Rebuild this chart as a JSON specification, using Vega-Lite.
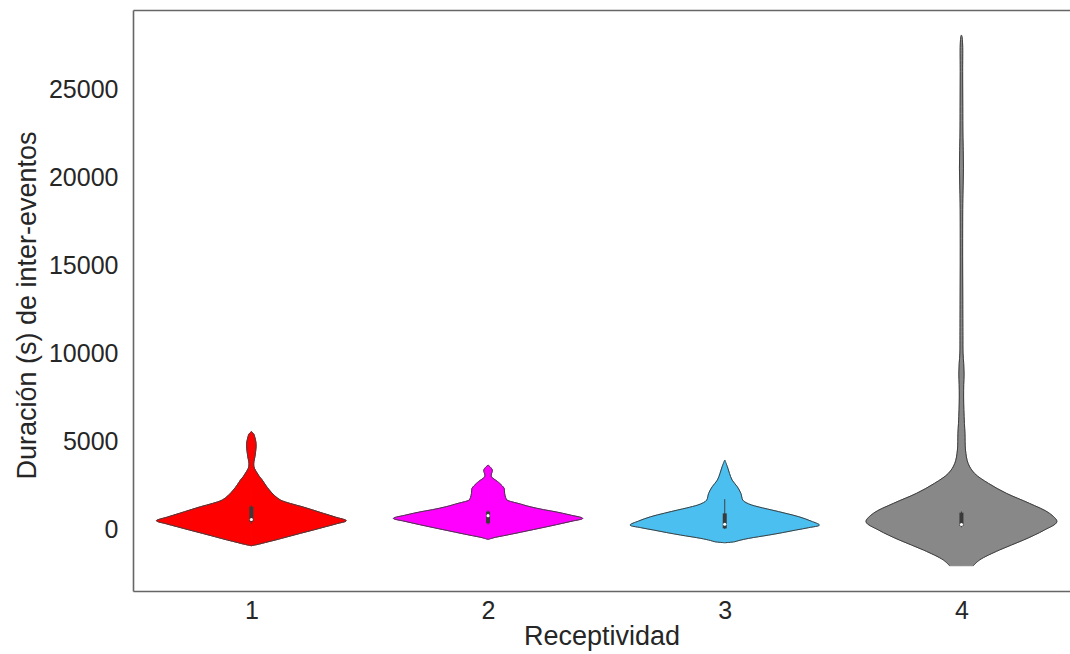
{
  "$schema": "https://vega.github.io/schema/vega-lite/v6.json",
  "width": 937,
  "height": 581,
  "autosize": {"type": "none"},
  "padding": {"left": 133, "top": 10, "right": 0, "bottom": 63},
  "background": "white",
  "config": {
    "view": {"stroke": null},
    "font": "Liberation Sans",
    "axis": {"grid": false, "labelFont": "Liberation Sans", "titleFont": "Liberation Sans"}
  },
  "datasets": {
    "vio": [
      {"g": 1, "v": 5530, "w": 0},
      {"g": 1, "v": 5400, "w": 0.010},
      {"g": 1, "v": 5244, "w": 0.014},
      {"g": 1, "v": 4950, "w": 0.019},
      {"g": 1, "v": 4676, "w": 0.020},
      {"g": 1, "v": 4400, "w": 0.018},
      {"g": 1, "v": 4108, "w": 0.015},
      {"g": 1, "v": 3850, "w": 0.011},
      {"g": 1, "v": 3636, "w": 0.010},
      {"g": 1, "v": 3450, "w": 0.013},
      {"g": 1, "v": 3256, "w": 0.021},
      {"g": 1, "v": 3000, "w": 0.033},
      {"g": 1, "v": 2784, "w": 0.046},
      {"g": 1, "v": 2500, "w": 0.060},
      {"g": 1, "v": 2216, "w": 0.076},
      {"g": 1, "v": 1900, "w": 0.098},
      {"g": 1, "v": 1648, "w": 0.123},
      {"g": 1, "v": 1450, "w": 0.165},
      {"g": 1, "v": 1267, "w": 0.215},
      {"g": 1, "v": 1080, "w": 0.260},
      {"g": 1, "v": 892, "w": 0.304},
      {"g": 1, "v": 680, "w": 0.355},
      {"g": 1, "v": 472, "w": 0.401},
      {"g": 1, "v": 300, "w": 0.360},
      {"g": 1, "v": 131, "w": 0.313},
      {"g": 1, "v": -60, "w": 0.260},
      {"g": 1, "v": -244, "w": 0.207},
      {"g": 1, "v": -430, "w": 0.155},
      {"g": 1, "v": -625, "w": 0.101},
      {"g": 1, "v": -760, "w": 0.060},
      {"g": 1, "v": -852, "w": 0.034},
      {"g": 1, "v": -949, "w": 0},
      {"g": 2, "v": 3636, "w": 0},
      {"g": 2, "v": 3500, "w": 0.011},
      {"g": 2, "v": 3352, "w": 0.018},
      {"g": 2, "v": 3200, "w": 0.016},
      {"g": 2, "v": 3068, "w": 0.013},
      {"g": 2, "v": 2950, "w": 0.015},
      {"g": 2, "v": 2879, "w": 0.021},
      {"g": 2, "v": 2700, "w": 0.040},
      {"g": 2, "v": 2595, "w": 0.049},
      {"g": 2, "v": 2450, "w": 0.060},
      {"g": 2, "v": 2311, "w": 0.068},
      {"g": 2, "v": 2027, "w": 0.070},
      {"g": 2, "v": 1800, "w": 0.074},
      {"g": 2, "v": 1648, "w": 0.080},
      {"g": 2, "v": 1550, "w": 0.100},
      {"g": 2, "v": 1458, "w": 0.127},
      {"g": 2, "v": 1269, "w": 0.177},
      {"g": 2, "v": 1100, "w": 0.235},
      {"g": 2, "v": 985, "w": 0.283},
      {"g": 2, "v": 800, "w": 0.346},
      {"g": 2, "v": 606, "w": 0.400},
      {"g": 2, "v": 450, "w": 0.355},
      {"g": 2, "v": 322, "w": 0.313},
      {"g": 2, "v": 180, "w": 0.265},
      {"g": 2, "v": 38, "w": 0.215},
      {"g": 2, "v": -246, "w": 0.114},
      {"g": 2, "v": -380, "w": 0.065},
      {"g": 2, "v": -473, "w": 0.030},
      {"g": 2, "v": -587, "w": 0},
      {"g": 3, "v": 3920, "w": 0},
      {"g": 3, "v": 3540, "w": 0.011},
      {"g": 3, "v": 3165, "w": 0.020},
      {"g": 3, "v": 2784, "w": 0.031},
      {"g": 3, "v": 2403, "w": 0.053},
      {"g": 3, "v": 2027, "w": 0.068},
      {"g": 3, "v": 1648, "w": 0.076},
      {"g": 3, "v": 1500, "w": 0.090},
      {"g": 3, "v": 1364, "w": 0.114},
      {"g": 3, "v": 1200, "w": 0.160},
      {"g": 3, "v": 1080, "w": 0.199},
      {"g": 3, "v": 900, "w": 0.255},
      {"g": 3, "v": 699, "w": 0.313},
      {"g": 3, "v": 450, "w": 0.365},
      {"g": 3, "v": 227, "w": 0.400},
      {"g": 3, "v": 80, "w": 0.355},
      {"g": 3, "v": -57, "w": 0.300},
      {"g": 3, "v": -200, "w": 0.245},
      {"g": 3, "v": -341, "w": 0.186},
      {"g": 3, "v": -530, "w": 0.101},
      {"g": 3, "v": -650, "w": 0.060},
      {"g": 3, "v": -720, "w": 0.042},
      {"g": 3, "v": -777, "w": 0},
      {"g": 4, "v": 28070, "w": 0},
      {"g": 4, "v": 27900, "w": 0.003},
      {"g": 4, "v": 27500, "w": 0.005},
      {"g": 4, "v": 26000, "w": 0.005},
      {"g": 4, "v": 24000, "w": 0.0055},
      {"g": 4, "v": 22500, "w": 0.006},
      {"g": 4, "v": 21500, "w": 0.0075},
      {"g": 4, "v": 20500, "w": 0.0085},
      {"g": 4, "v": 19500, "w": 0.007},
      {"g": 4, "v": 18500, "w": 0.0055},
      {"g": 4, "v": 17000, "w": 0.005},
      {"g": 4, "v": 15000, "w": 0.005},
      {"g": 4, "v": 13000, "w": 0.0055},
      {"g": 4, "v": 11000, "w": 0.006},
      {"g": 4, "v": 10000, "w": 0.0065},
      {"g": 4, "v": 9400, "w": 0.0095},
      {"g": 4, "v": 8800, "w": 0.011},
      {"g": 4, "v": 8200, "w": 0.0095},
      {"g": 4, "v": 7500, "w": 0.009},
      {"g": 4, "v": 6800, "w": 0.010},
      {"g": 4, "v": 6000, "w": 0.0125},
      {"g": 4, "v": 5436, "w": 0.0148},
      {"g": 4, "v": 4489, "w": 0.017},
      {"g": 4, "v": 3733, "w": 0.028},
      {"g": 4, "v": 3165, "w": 0.055},
      {"g": 4, "v": 2595, "w": 0.114},
      {"g": 4, "v": 2027, "w": 0.190},
      {"g": 4, "v": 1460, "w": 0.287},
      {"g": 4, "v": 892, "w": 0.372},
      {"g": 4, "v": 415, "w": 0.403},
      {"g": 4, "v": -57, "w": 0.350},
      {"g": 4, "v": -625, "w": 0.262},
      {"g": 4, "v": -1193, "w": 0.160},
      {"g": 4, "v": -1761, "w": 0.076},
      {"g": 4, "v": -2085, "w": 0.050}
    ],
    "box": [
      {"g": 1, "lo": 300, "q1": 420, "med": 540, "q3": 1270, "hi": 1350},
      {"g": 2, "lo": 250, "q1": 330, "med": 760, "q3": 990, "hi": 1050},
      {"g": 3, "lo": 0, "q1": 40, "med": 270, "q3": 890, "hi": 1700},
      {"g": 4, "lo": 100, "q1": 170, "med": 260, "q3": 930, "hi": 1000}
    ]
  },
  "layer": [
    {
      "data": {"name": "vio"},
      "transform": [{"filter": "datum.g == 1"}],
      "encoding": {
        "y": {"field": "v", "type": "quantitative", "scale": {"domain": [-3520, 29490], "nice": false, "zero": false},
          "axis": {"values": [0, 5000, 10000, 15000, 20000, 25000], "format": "d", "ticks": false, "labelFontSize": 25, "labelColor": "#262626", "labelPadding": 15, "domain": true, "domainColor": "#666666", "domainWidth": 1.6, "title": "Duración (s) de inter-eventos", "titleFontSize": 27, "titleFontWeight": "normal", "titleColor": "#262626", "titleX": -98, "titleY": 295, "titleBaseline": "alphabetic", "titleAngle": -90, "grid": false}},
        "x": {"field": "w", "type": "quantitative", "scale": {"domain": [-0.5, 3.4586], "nice": false, "zero": false}, "axis": null}
      },
      "layer": [
        {"mark": {"type": "area", "orient": "horizontal", "color": "#ff0000", "stroke": "#ff0000", "strokeWidth": 1, "opacity": 1, "interpolate": "catmull-rom"}, "encoding": {"x2": {"datum": 0}}},
        {"mark": {"type": "line", "color": "#404040", "strokeWidth": 1, "interpolate": "catmull-rom"}, "encoding": {"order": {"field": "v", "type": "quantitative"}}}
      ]
    },
    {
      "data": {"name": "vio"},
      "transform": [{"filter": "datum.g == 1"}],
      "encoding": {
        "y": {"field": "v", "type": "quantitative", "scale": {"domain": [-3520, 29490], "nice": false, "zero": false}},
        "x": {"field": "w", "type": "quantitative", "scale": {"domain": [-3.4586, 0.5], "nice": false, "zero": false, "reverse": true}, "axis": null}
      },
      "layer": [
        {"mark": {"type": "area", "orient": "horizontal", "color": "#ff0000", "stroke": "#ff0000", "strokeWidth": 1, "opacity": 1, "interpolate": "catmull-rom"}, "encoding": {"x2": {"datum": 0}}},
        {"mark": {"type": "line", "color": "#404040", "strokeWidth": 1, "interpolate": "catmull-rom"}, "encoding": {"order": {"field": "v", "type": "quantitative"}}}
      ]
    },
    {
      "data": {"name": "vio"},
      "transform": [{"filter": "datum.g == 2"}],
      "encoding": {
        "y": {"field": "v", "type": "quantitative", "scale": {"domain": [-3520, 29490], "nice": false, "zero": false}},
        "x": {"field": "w", "type": "quantitative", "scale": {"domain": [-1.5, 2.4586], "nice": false, "zero": false}, "axis": null}
      },
      "layer": [
        {"mark": {"type": "area", "orient": "horizontal", "color": "#ff00ff", "stroke": "#ff00ff", "strokeWidth": 1, "opacity": 1, "interpolate": "catmull-rom"}, "encoding": {"x2": {"datum": 0}}},
        {"mark": {"type": "line", "color": "#404040", "strokeWidth": 1, "interpolate": "catmull-rom"}, "encoding": {"order": {"field": "v", "type": "quantitative"}}}
      ]
    },
    {
      "data": {"name": "vio"},
      "transform": [{"filter": "datum.g == 2"}],
      "encoding": {
        "y": {"field": "v", "type": "quantitative", "scale": {"domain": [-3520, 29490], "nice": false, "zero": false}},
        "x": {"field": "w", "type": "quantitative", "scale": {"domain": [-2.4586, 1.5], "nice": false, "zero": false, "reverse": true}, "axis": null}
      },
      "layer": [
        {"mark": {"type": "area", "orient": "horizontal", "color": "#ff00ff", "stroke": "#ff00ff", "strokeWidth": 1, "opacity": 1, "interpolate": "catmull-rom"}, "encoding": {"x2": {"datum": 0}}},
        {"mark": {"type": "line", "color": "#404040", "strokeWidth": 1, "interpolate": "catmull-rom"}, "encoding": {"order": {"field": "v", "type": "quantitative"}}}
      ]
    },
    {
      "data": {"name": "vio"},
      "transform": [{"filter": "datum.g == 3"}],
      "encoding": {
        "y": {"field": "v", "type": "quantitative", "scale": {"domain": [-3520, 29490], "nice": false, "zero": false}},
        "x": {"field": "w", "type": "quantitative", "scale": {"domain": [-2.5, 1.4586], "nice": false, "zero": false}, "axis": null}
      },
      "layer": [
        {"mark": {"type": "area", "orient": "horizontal", "color": "#4bbff0", "stroke": "#4bbff0", "strokeWidth": 1, "opacity": 1, "interpolate": "catmull-rom"}, "encoding": {"x2": {"datum": 0}}},
        {"mark": {"type": "line", "color": "#404040", "strokeWidth": 1, "interpolate": "catmull-rom"}, "encoding": {"order": {"field": "v", "type": "quantitative"}}}
      ]
    },
    {
      "data": {"name": "vio"},
      "transform": [{"filter": "datum.g == 3"}],
      "encoding": {
        "y": {"field": "v", "type": "quantitative", "scale": {"domain": [-3520, 29490], "nice": false, "zero": false}},
        "x": {"field": "w", "type": "quantitative", "scale": {"domain": [-1.4586, 2.5], "nice": false, "zero": false, "reverse": true}, "axis": null}
      },
      "layer": [
        {"mark": {"type": "area", "orient": "horizontal", "color": "#4bbff0", "stroke": "#4bbff0", "strokeWidth": 1, "opacity": 1, "interpolate": "catmull-rom"}, "encoding": {"x2": {"datum": 0}}},
        {"mark": {"type": "line", "color": "#404040", "strokeWidth": 1, "interpolate": "catmull-rom"}, "encoding": {"order": {"field": "v", "type": "quantitative"}}}
      ]
    },
    {
      "data": {"name": "vio"},
      "transform": [{"filter": "datum.g == 4"}],
      "encoding": {
        "y": {"field": "v", "type": "quantitative", "scale": {"domain": [-3520, 29490], "nice": false, "zero": false}},
        "x": {"field": "w", "type": "quantitative", "scale": {"domain": [-3.5, 0.4586], "nice": false, "zero": false}, "axis": null}
      },
      "layer": [
        {"mark": {"type": "area", "orient": "horizontal", "color": "#888888", "stroke": "#888888", "strokeWidth": 1, "opacity": 1, "interpolate": "catmull-rom"}, "encoding": {"x2": {"datum": 0}}},
        {"mark": {"type": "line", "color": "#404040", "strokeWidth": 1, "interpolate": "catmull-rom"}, "encoding": {"order": {"field": "v", "type": "quantitative"}}}
      ]
    },
    {
      "data": {"name": "vio"},
      "transform": [{"filter": "datum.g == 4"}],
      "encoding": {
        "y": {"field": "v", "type": "quantitative", "scale": {"domain": [-3520, 29490], "nice": false, "zero": false}},
        "x": {"field": "w", "type": "quantitative", "scale": {"domain": [-0.4586, 3.5], "nice": false, "zero": false, "reverse": true}, "axis": null}
      },
      "layer": [
        {"mark": {"type": "area", "orient": "horizontal", "color": "#888888", "stroke": "#888888", "strokeWidth": 1, "opacity": 1, "interpolate": "catmull-rom"}, "encoding": {"x2": {"datum": 0}}},
        {"mark": {"type": "line", "color": "#404040", "strokeWidth": 1, "interpolate": "catmull-rom"}, "encoding": {"order": {"field": "v", "type": "quantitative"}}}
      ]
    },
    {
      "data": {"name": "box"},
      "mark": {"type": "rule", "color": "#404040", "strokeWidth": 1},
      "encoding": {
        "x": {"field": "g", "type": "quantitative", "scale": {"domain": [0.5, 4.4586], "nice": false, "zero": false},
          "axis": {"values": [1, 2, 3, 4], "format": "d", "ticks": false, "labelFontSize": 25, "labelColor": "#262626", "labelBaseline": "alphabetic", "labelPadding": 27, "labelFlush": false, "domain": true, "domainColor": "#666666", "domainWidth": 1.6, "title": "Receptividad", "titleFontSize": 27, "titleFontWeight": "normal", "titleColor": "#262626", "titleBaseline": "alphabetic", "titleY": 53, "grid": false}},
        "y": {"field": "lo", "type": "quantitative", "scale": {"domain": [-3520, 29490], "nice": false, "zero": false}},
        "y2": {"field": "hi"}
      }
    },
    {
      "data": {"name": "box"},
      "mark": {"type": "rule", "color": "#3a3a3a", "strokeWidth": 4},
      "encoding": {
        "x": {"field": "g", "type": "quantitative", "scale": {"domain": [0.5, 4.4586], "nice": false, "zero": false}, "axis": null},
        "y": {"field": "q1", "type": "quantitative", "scale": {"domain": [-3520, 29490], "nice": false, "zero": false}},
        "y2": {"field": "q3"}
      }
    },
    {
      "data": {"name": "box"},
      "mark": {"type": "circle", "color": "white", "opacity": 1, "size": 10},
      "encoding": {
        "x": {"field": "g", "type": "quantitative", "scale": {"domain": [0.5, 4.4586], "nice": false, "zero": false},
          "axis": {"orient": "top", "labels": false, "ticks": false, "title": null, "domain": true, "domainColor": "#666666", "domainWidth": 1.6, "grid": false}},
        "y": {"field": "med", "type": "quantitative", "scale": {"domain": [-3520, 29490], "nice": false, "zero": false}}
      }
    }
  ],
  "resolve": {"scale": {"x": "independent"}}
}
